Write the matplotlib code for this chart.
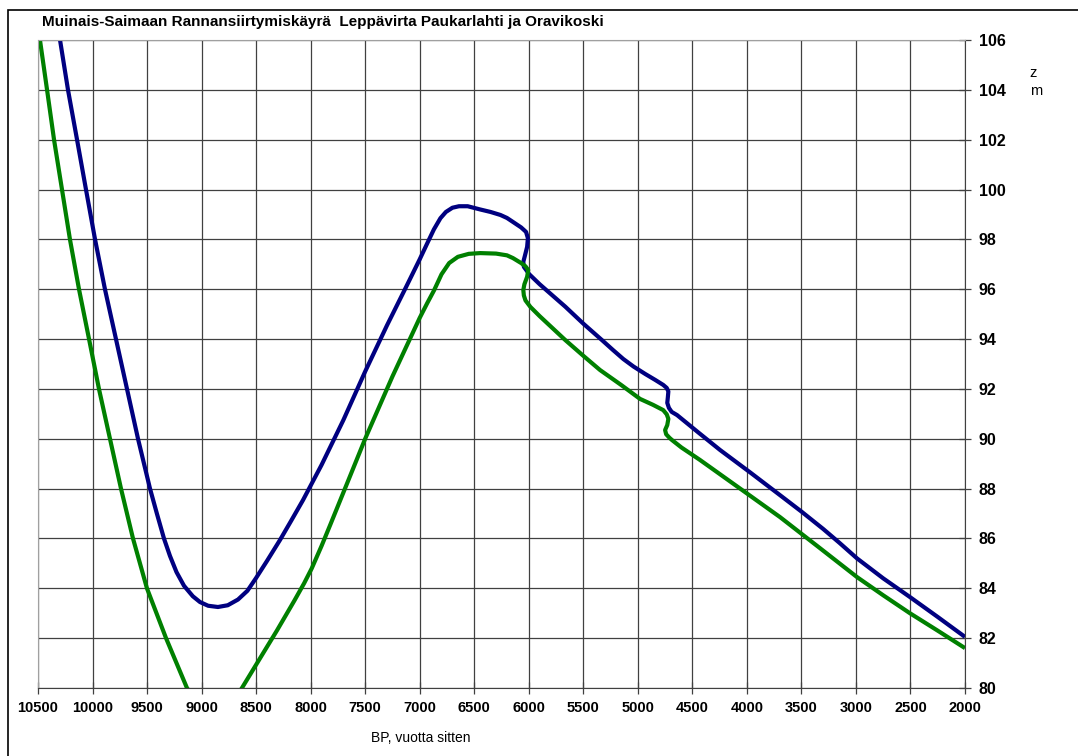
import matplotlib.pyplot as plt
from matplotlib.patches import Rectangle

plt.rcParams['font.family'] = ['Liberation Sans', 'DejaVu Sans']

# Leppävirta Paukarlahti (navy)
navy_bp = [10298, 10225, 10142, 10060, 9977, 9886, 9785, 9684, 9583, 9473, 9410,
           9345, 9290, 9230, 9161, 9080, 9015, 8940, 8850, 8760, 8666, 8580, 8501, 8400,
           8281, 8180, 8070, 7900, 7700, 7500, 7300, 7135, 7000, 6930, 6870, 6810,
           6760, 6700, 6640, 6560, 6445, 6350, 6260, 6200, 6145, 6070, 6025, 6008,
           6015, 6035, 6050, 6045, 6020, 5995, 5900, 5665, 5500, 5329, 5230, 5133,
           5040, 4932, 4840, 4767, 4735, 4720, 4725, 4730, 4715, 4690, 4640, 4450,
           4246, 3970, 3697, 3500, 3300, 3150, 2990, 2750, 2505, 2250, 2000]
navy_z = [106.0, 104.0, 102.0, 100.0, 98.0, 96.0, 94.0, 92.0, 90.0, 88.0, 87.0,
          86.0, 85.3, 84.65, 84.1, 83.68, 83.45, 83.3, 83.25, 83.32, 83.55, 83.9, 84.41, 85.1,
          85.94, 86.7, 87.54, 88.95, 90.75, 92.7, 94.55, 96.0, 97.2, 97.85, 98.4, 98.85,
          99.1, 99.27, 99.33, 99.33, 99.2, 99.1, 98.98, 98.86, 98.7, 98.48, 98.3, 98.05,
          97.7, 97.35, 97.1, 96.9, 96.75, 96.6, 96.2, 95.3, 94.62, 93.96, 93.57, 93.2,
          92.9, 92.6, 92.36, 92.16, 92.04, 91.9, 91.65, 91.44, 91.24, 91.08, 90.95, 90.27,
          89.55, 88.65, 87.74, 87.08, 86.38, 85.82, 85.2, 84.4, 83.65, 82.85, 82.05]

# Oravikoski (green)
green_bp = [10482, 10417, 10353, 10280, 10207, 10124, 10032, 9941, 9840, 9739, 9629,
            9501, 9326, 9134, 9000, 8880, 8750, 8630, 8470, 8310, 8150, 8060, 7990,
            7900, 7820, 7650, 7500, 7250, 7000, 6930, 6869, 6800, 6730, 6650, 6550, 6445,
            6300, 6200, 6145, 6070, 6030, 6005, 6015, 6040, 6050, 6045, 6030, 5985,
            5900, 5665, 5500, 5347, 5150, 4980, 4860, 4767, 4735, 4720, 4730, 4750,
            4740, 4710, 4687, 4600, 4430, 4100, 3697, 3350, 2990, 2750, 2505, 2250, 2000]
green_z = [106.0, 104.0, 102.0, 100.0, 98.0, 96.0, 94.0, 92.0, 90.0, 88.0, 86.0,
           84.0, 82.0, 80.0, 79.2, 78.9, 79.2, 80.0, 81.15, 82.3, 83.5, 84.2, 84.8,
           85.7, 86.55, 88.38, 90.0, 92.5, 94.85, 95.45, 95.95, 96.6, 97.05, 97.3, 97.42, 97.45,
           97.43, 97.36, 97.25, 97.05, 96.92, 96.77, 96.5, 96.2, 95.97, 95.75, 95.55, 95.29,
           94.92, 93.96, 93.33, 92.76, 92.15, 91.6, 91.36, 91.15, 90.98, 90.8, 90.55, 90.35,
           90.18, 90.04, 89.95, 89.65, 89.15, 88.12, 86.86, 85.68, 84.45, 83.72, 83.0, 82.3, 81.6]

x_ticks = list(range(10500, 1999, -500))
y_ticks = list(range(80, 107, 2))

fig = plt.figure(figsize=(10.78, 7.56), dpi=100)
ax = fig.add_axes([38 / 1078, 1 - 688 / 756, (965 - 38) / 1078, (688 - 40) / 756])

# outer chart frame (runs off the right and bottom edges)
fig.patches.append(Rectangle((8 / 1078, -0.1), 1.2, 1 - 10 / 756 + 0.1,
                             transform=fig.transFigure, fill=False,
                             edgecolor='black', linewidth=1.2))

ax.plot(navy_bp, navy_z, color='#000080', linewidth=3.0,
        solid_joinstyle='round', solid_capstyle='butt')
ax.plot(green_bp, green_z, color='#008000', linewidth=3.0,
        solid_joinstyle='round', solid_capstyle='butt')

ax.set_xlim(10500, 2000)
ax.set_ylim(80, 106)
ax.set_xticks(x_ticks)
ax.set_yticks(y_ticks)
ax.yaxis.tick_right()
ax.grid(True, color='#404040', linewidth=0.9)
ax.set_axisbelow(True)

ax.tick_params(axis='both', direction='inout', length=8, width=0.9, color='#404040')
ax.tick_params(axis='x', pad=5, labelsize=10.5)
ax.tick_params(axis='y', pad=6, labelsize=11.5)
for lab in ax.get_xticklabels() + ax.get_yticklabels():
    lab.set_fontweight('bold')

for s in ['left', 'top']:
    ax.spines[s].set_color('#a0a0a0')
for s in ['right', 'bottom']:
    ax.spines[s].set_color('#404040')

fig.text(42 / 1078, 1 - 22 / 756, 'Muinais-Saimaan Rannansiirtymiskäyrä  Leppävirta Paukarlahti ja Oravikoski',
         fontsize=11.0, fontweight='bold', va='center', ha='left')
fig.text(1033 / 1078, 1 - 73 / 756, 'z', fontsize=10.5, ha='center', va='center')
fig.text(1036 / 1078, 1 - 91 / 756, 'm', fontsize=10.5, ha='center', va='center')
fig.text(421 / 1078, 1 - 738 / 756, 'BP, vuotta sitten', fontsize=10, ha='center', va='center')

fig.savefig('out.png', dpi=100)
